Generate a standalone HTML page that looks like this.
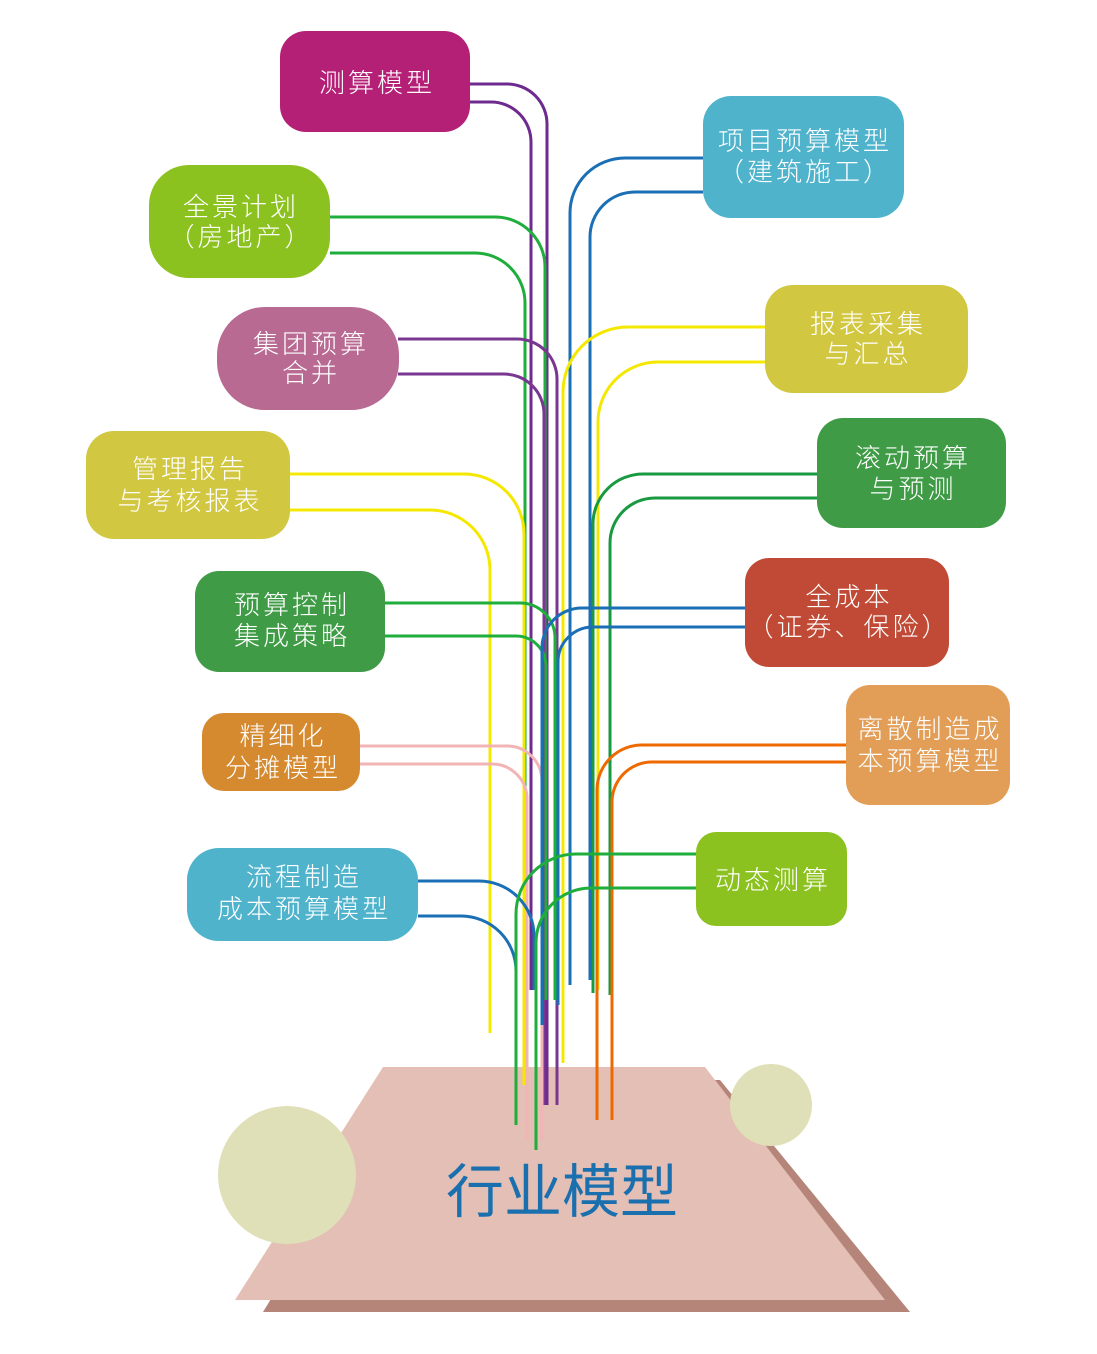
<!DOCTYPE html>
<html><head><meta charset="utf-8"><style>
html,body{margin:0;padding:0;background:#fff}
svg{display:block}
text{font-family:"Liberation Sans","Noto Sans CJK SC",sans-serif;fill:#fff;font-weight:300}
</style></head><body>
<svg width="1097" height="1354" viewBox="0 0 1097 1354" xmlns="http://www.w3.org/2000/svg">
<polygon points="405,1080 720,1080 910,1312 263,1312" fill="#b5857a"/>
<polygon points="383,1067 705,1067 885,1300 235,1300" fill="#e4bfb5"/>
<circle cx="287" cy="1175" r="69" fill="#dfe0b8"/>
<circle cx="771" cy="1105" r="41" fill="#dfe0b8"/>
<g fill="none" stroke-width="3">
<path d="M470 84 H507 A40 40 0 0 1 547 124 V1105" stroke="#6e2a8e"/>
<path d="M470 102 H491 A40 40 0 0 1 531 142 V990" stroke="#6e2a8e"/>
<path d="M330 217 H495 A50 50 0 0 1 545 267 V1000" stroke="#1fae3c"/>
<path d="M330 253 H475 A50 50 0 0 1 525 303 V990" stroke="#1fae3c"/>
<path d="M398 339 H517 A40 40 0 0 1 557 379 V1105" stroke="#7a3792"/>
<path d="M398 374 H504 A40 40 0 0 1 544 414 V1105" stroke="#7a3792"/>
<path d="M290 474 H464 A60 60 0 0 1 524 534 V1085" stroke="#f5e800"/>
<path d="M290 510 H430 A60 60 0 0 1 490 570 V1033" stroke="#f5e800"/>
<path d="M385 603 H520 A35 35 0 0 1 555 638 V1000" stroke="#1fae3c"/>
<path d="M385 636 H516 A30 30 0 0 1 546 666 V1000" stroke="#1fae3c"/>
<path d="M360 746 H507 A35 35 0 0 1 542 781 V1140" stroke="#f2b4b4"/>
<path d="M360 764 H492 A35 35 0 0 1 527 799 V1140" stroke="#f2b4b4"/>
<path d="M418 881 H479 A55 55 0 0 1 534 936 V990" stroke="#1a6fb5"/>
<path d="M418 916 H461 A55 55 0 0 1 516 971 V1125" stroke="#1a6fb5"/>
<path d="M703 158 H625 A55 55 0 0 0 570 213 V985" stroke="#1a6fb5"/>
<path d="M703 192 H635 A45 45 0 0 0 590 237 V980" stroke="#1a6fb5"/>
<path d="M765 327 H628 A65 65 0 0 0 563 392 V1063" stroke="#f5e800"/>
<path d="M765 362 H658 A60 60 0 0 0 598 422 V990" stroke="#f5e800"/>
<path d="M817 474 H643 A50 50 0 0 0 593 524 V993" stroke="#1a9a40"/>
<path d="M817 498 H655 A45 45 0 0 0 610 543 V995" stroke="#1a9a40"/>
<path d="M745 608 H582 A40 40 0 0 0 542 648 V1025" stroke="#1a6fb5"/>
<path d="M745 627 H593 A35 35 0 0 0 558 662 V1005" stroke="#1a6fb5"/>
<path d="M846 745 H642 A45 45 0 0 0 597 790 V1120" stroke="#ee6a00"/>
<path d="M846 762 H652 A40 40 0 0 0 612 802 V1120" stroke="#ee6a00"/>
<path d="M696 854 H576 A60 60 0 0 0 516 914 V1125" stroke="#1fae3c"/>
<path d="M696 888 H591 A55 55 0 0 0 536 943 V1150" stroke="#1fae3c"/>
</g>
<g>
<rect x="280" y="31" width="190" height="101" rx="26" fill="#b52077"/>
<rect x="703" y="96" width="201" height="122" rx="28" fill="#4fb3cc"/>
<rect x="149" y="165" width="181" height="113" rx="40" fill="#8cc21f"/>
<rect x="765" y="285" width="203" height="108" rx="28" fill="#d2c741"/>
<rect x="217" y="307" width="182" height="103" rx="48" fill="#b86a92"/>
<rect x="817" y="418" width="189" height="110" rx="26" fill="#3f9b45"/>
<rect x="86" y="431" width="204" height="108" rx="28" fill="#d2c741"/>
<rect x="745" y="558" width="204" height="109" rx="24" fill="#c04a35"/>
<rect x="195" y="571" width="190" height="101" rx="24" fill="#3f9b45"/>
<rect x="846" y="685" width="164" height="120" rx="24" fill="#e29e57"/>
<rect x="202" y="713" width="158" height="78" rx="22" fill="#d68a30"/>
<rect x="696" y="832" width="151" height="94" rx="20" fill="#8cc21f"/>
<rect x="187" y="848" width="231" height="93" rx="32" fill="#4fb3cc"/>
</g>
<g font-size="26" text-anchor="middle" letter-spacing="3">
<text x="377" y="92">测算模型</text>
<text x="805" y="150">项目预算模型</text><text x="805" y="181">（建筑施工）</text>
<text x="241" y="216">全景计划</text><text x="241" y="246">（房地产）</text>
<text x="868" y="333">报表采集</text><text x="868" y="363">与汇总</text>
<text x="311" y="353">集团预算</text><text x="311" y="382">合并</text>
<text x="913" y="467">滚动预算</text><text x="913" y="498">与预测</text>
<text x="190" y="478">管理报告</text><text x="190" y="510">与考核报表</text>
<text x="849" y="606">全成本</text><text x="849" y="636">（证券、保险）</text>
<text x="292" y="614">预算控制</text><text x="292" y="645">集成策略</text>
<text x="930" y="738">离散制造成</text><text x="930" y="770">本预算模型</text>
<text x="283" y="745">精细化</text><text x="283" y="777">分摊模型</text>
<text x="773" y="889">动态测算</text>
<text x="304" y="886">流程制造</text><text x="304" y="918">成本预算模型</text>
</g>
<text x="562" y="1212" font-size="58" text-anchor="middle" style="fill:#1a6fae;font-weight:400">行业模型</text>
</svg>
</body></html>
